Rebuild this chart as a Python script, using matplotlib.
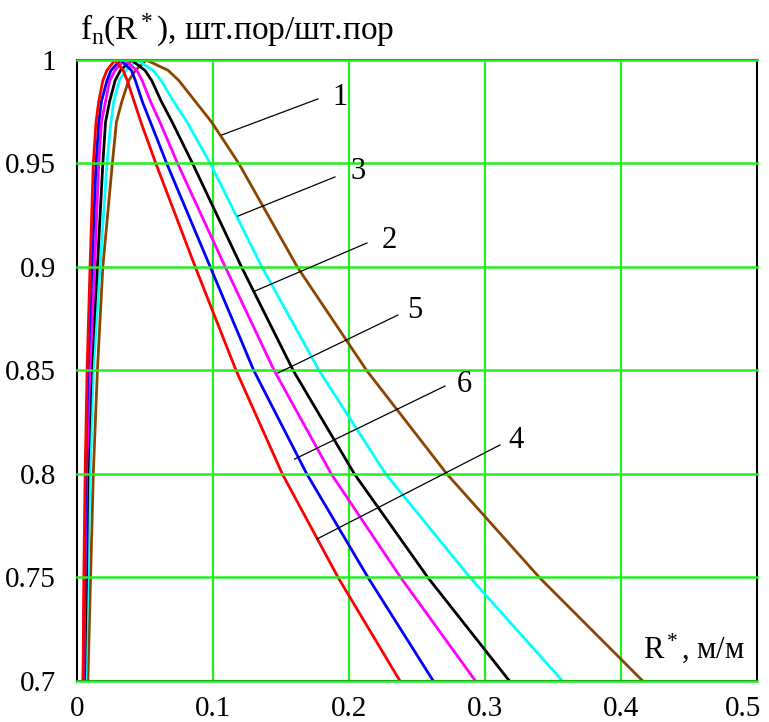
import matplotlib.pyplot as plt
import matplotlib.transforms as mtransforms

plt.rcParams['font.family'] = ['Liberation Serif', 'DejaVu Serif']
plt.rcParams['mathtext.fontset'] = 'custom'
plt.rcParams['mathtext.rm'] = 'Liberation Serif'
plt.rcParams['mathtext.it'] = 'Liberation Serif:italic'

# y levels at which each curve was read (rising side, peak, falling side)
y_levels = [0.7, 0.75, 0.8, 0.85, 0.9, 0.95, 0.97, 0.98, 0.99, 0.995, 1.0,
            0.995, 0.99, 0.98, 0.97, 0.95, 0.9, 0.85, 0.8, 0.75, 0.7]

# x positions per curve
x_red = [0.0045, 0.005, 0.006, 0.0074, 0.0096, 0.012, 0.014, 0.016, 0.019, 0.022, 0.028,
         0.034, 0.037, 0.042, 0.047, 0.058, 0.087, 0.117, 0.151, 0.192, 0.2375]
x_blue = [0.0045, 0.0055, 0.0065, 0.008, 0.011, 0.014, 0.016, 0.018, 0.022, 0.025, 0.032,
          0.040, 0.043, 0.048, 0.054, 0.066, 0.098, 0.130, 0.169, 0.214, 0.262]
x_magenta = [0.005, 0.006, 0.007, 0.0095, 0.013, 0.016, 0.018, 0.021, 0.024, 0.028, 0.035,
             0.044, 0.048, 0.054, 0.061, 0.074, 0.109, 0.145, 0.187, 0.238, 0.293]
x_black = [0.0055, 0.007, 0.008, 0.0105, 0.015, 0.019, 0.021, 0.024, 0.028, 0.032, 0.040,
           0.050, 0.055, 0.062, 0.070, 0.085, 0.121, 0.159, 0.204, 0.258, 0.318]
x_cyan = [0.0065, 0.008, 0.0096, 0.012, 0.017, 0.022, 0.025, 0.027, 0.031, 0.036, 0.044,
          0.056, 0.062, 0.071, 0.081, 0.098, 0.136, 0.178, 0.227, 0.289, 0.357]
x_brown = [0.008, 0.010, 0.012, 0.015, 0.019, 0.026, 0.029, 0.033, 0.038, 0.043, 0.051,
           0.067, 0.075, 0.087, 0.099, 0.119, 0.162, 0.213, 0.272, 0.340, 0.416]

curves = [("1", x_brown, "#8b4500"),
          ("3", x_cyan, "#00ffff"),
          ("2", x_black, "#000000"),
          ("5", x_magenta, "#ff00ff"),
          ("6", x_blue, "#0000ff"),
          ("4", x_red, "#ff0000")]

# leader lines: label, start on curve, end, label position
leaders = [("1", (0.1066, 0.9638), (0.1772, 0.9812), (0.188, 0.982)),
           ("3", (0.1184, 0.9246), (0.1897, 0.9435), (0.201, 0.946)),
           ("2", (0.1309, 0.8884), (0.2132, 0.9116), (0.224, 0.913)),
           ("5", (0.1478, 0.8488), (0.2360, 0.8768), (0.243, 0.879)),
           ("6", (0.1600, 0.8072), (0.2706, 0.8425), (0.279, 0.843)),
           ("4", (0.1765, 0.7686), (0.3110, 0.8140), (0.317, 0.816))]

x_ticks = [0, 0.1, 0.2, 0.3, 0.4, 0.5]
x_tick_labels = ["0", "0.1", "0.2", "0.3", "0.4", "0.5"]
y_ticks = [0.7, 0.75, 0.8, 0.85, 0.9, 0.95, 1.0]
y_tick_labels = ["0.7", "0.75", "0.8", "0.85", "0.9", "0.95", "1"]

fig = plt.figure(figsize=(7.69, 7.22), dpi=100)
ax = fig.add_axes([0.1001, 0.0568, 0.8843, 0.8601])
ax.set_xlim(0, 0.5)
ax.set_ylim(0.7, 1.0)

green = "#22ee22"
for xv in x_ticks[1:-1]:
    ax.axvline(xv, color=green, lw=1.6, zorder=1)
for yv in y_ticks:
    ax.axhline(yv, color=green, lw=1.8, zorder=3, clip_on=False)

for lab, xs, col in curves:
    ax.plot(xs, y_levels, color=col, lw=2.0, zorder=2)

for lab, p0, p1, pt in leaders:
    ax.plot([p0[0], p1[0]], [p0[1], p1[1]], color="black", lw=0.9, zorder=4)
    ax.text(pt[0], pt[1], lab, fontsize=22, ha="left", va="center", zorder=5)

for s in ax.spines.values():
    s.set_color("black")
    s.set_linewidth(1.5)

ax.set_xticks(x_ticks)
ax.set_xticklabels(x_tick_labels, fontsize=21)
ax.set_yticks(y_ticks)
ax.set_yticklabels(y_tick_labels, fontsize=21)
ax.tick_params(axis="x", length=0, pad=11)
ax.tick_params(axis="y", length=0, pad=15)

# last x label sits a little left of its gridline, as in the original
last = ax.get_xticklabels()[-1]
last.set_transform(last.get_transform() +
                   mtransforms.ScaledTranslation(-14 / 100, 0, fig.dpi_scale_trans))

ax.text(0.491, 0.716, "R$^*$, м/м", fontsize=22, ha="right", va="center")
fig.text(0.104, 0.958, r"f$_\mathrm{n}$(R$^*$), шт.пор/шт.пор", fontsize=24,
         ha="left", va="center")

fig.savefig("out.png", dpi=100)
